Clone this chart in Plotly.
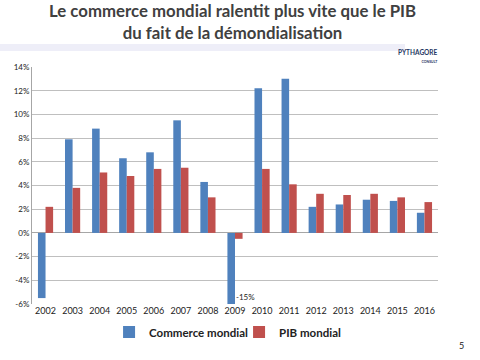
import plotly.graph_objects as go

years = ["2002", "2003", "2004", "2005", "2006", "2007", "2008", "2009",
         "2010", "2011", "2012", "2013", "2014", "2015", "2016"]
commerce = [-5.5, 7.9, 8.8, 6.3, 6.8, 9.5, 4.3, -15.0, 12.2, 13.0, 2.2, 2.4, 2.8, 2.7, 1.7]
pib = [2.2, 3.8, 5.1, 4.8, 5.4, 5.5, 3.0, -0.5, 5.4, 4.1, 3.3, 3.2, 3.3, 3.0, 2.6]
ytick_vals = [-6, -4, -2, 0, 2, 4, 6, 8, 10, 12, 14]
ytick_text = [f"{v}%" for v in ytick_vals]

FONT = "Lato"

fig = go.Figure()
fig.add_trace(go.Bar(x=years, y=commerce, name="Commerce mondial",
                     marker=dict(color="#4f81bd", line=dict(width=0))))
fig.add_trace(go.Bar(x=years, y=pib, name="PIB mondial",
                     marker=dict(color="#c0504d", line=dict(width=0))))

fig.update_layout(
    width=480, height=360,
    margin=dict(l=32, r=42, t=67, b=56, autoexpand=False),
    paper_bgcolor="white", plot_bgcolor="white",
    barmode="group", bargap=0.44, bargroupgap=0,
    font=dict(family=FONT, color="#222222"),
    showlegend=True,
    legend=dict(orientation="h", x=0.51, xanchor="center",
                yref="container", y=1 - 332 / 360, yanchor="middle",
                font=dict(family=FONT, size=11.5, color="#222222", weight=700),
                itemwidth=30, entrywidth=85, entrywidthmode="pixels",
                traceorder="normal"),
    xaxis=dict(type="category", showgrid=False, showline=False, ticks="",
               automargin=False,
               tickfont=dict(size=9, color="#222222"),
               range=[-0.5, len(years) - 0.5]),
    yaxis=dict(range=[-6, 14], tickvals=ytick_vals, ticktext=ytick_text,
               automargin=False,
               showgrid=True, gridcolor="#bfbfbf", gridwidth=1,
               zeroline=True, zerolinecolor="#a6a6a6", zerolinewidth=1,
               showline=True, linecolor="#a6a6a6", linewidth=1,
               tickfont=dict(size=8, color="#222222")),
)

# title
fig.add_annotation(text="Le commerce mondial ralentit plus vite que le PIB<br>du fait de la démondialisation",
                   xref="paper", yref="paper", x=0.495, xanchor="center",
                   y=1 + 66 / 237, yanchor="top", yshift=3,
                   showarrow=False, align="center",
                   font=dict(family=FONT, size=16.8, color="#404040", weight=700))
# decorative band under title
fig.add_shape(type="rect", xref="paper", yref="paper", x0=-32 / 406, x1=(405 - 32) / 406,
              y0=1 + 16 / 237, y1=1 + 23 / 237, fillcolor="#eeeef8", line=dict(width=0),
              layer="below")
# logo text
fig.add_annotation(text="PYTHAGORE<br><span style='font-size:3.5px'>CONSULT</span>",
                   xref="paper", yref="paper", x=1.005, y=1.083, showarrow=False,
                   font=dict(size=6.5, color="#1f3864", weight=700), align="right")
# -15% label
fig.add_annotation(text="-15%", x=years.index("2009"), y=-6, xref="x", yref="y",
                   showarrow=False, xanchor="left", xshift=-1, yshift=7,
                   font=dict(size=8, color="#222222"))
# page number
fig.add_annotation(text="5", xref="paper", yref="paper", x=1.069, y=-0.205,
                   showarrow=False, font=dict(size=9, color="#222222"))

fig.write_html("out.html", config={"displayModeBar": False},
               post_script="document.body.style.margin='0px';")
